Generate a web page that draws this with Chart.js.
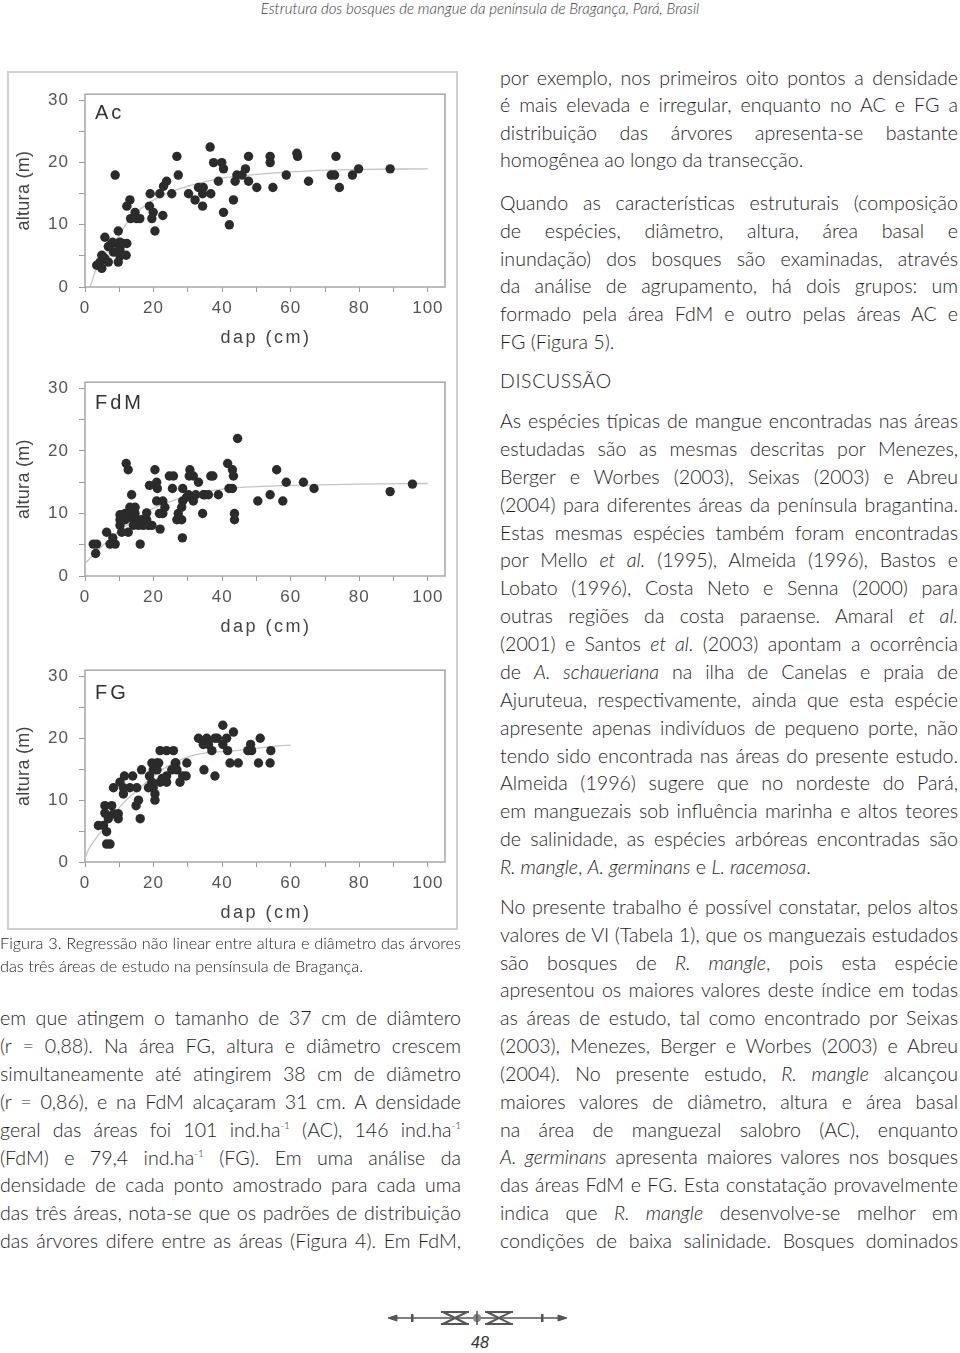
<!DOCTYPE html>
<html>
<head>
<meta charset="utf-8">
<script src="https://cdn.jsdelivr.net/npm/chart.js@4.4.1/dist/chart.umd.min.js"></script>
<style>
body{margin:0;width:960px;height:1353px;position:relative;background:#fff;overflow:hidden;
  font-family:Lato,"Open Sans",sans-serif;font-weight:300;color:#1e1e1e}
.hdr{position:absolute;top:0;left:0;width:960px;text-align:center;font-style:italic;font-size:15px;line-height:17px;color:#3a3a3a}
.col{position:absolute;font-size:19.6px}
.col div{white-space:nowrap;text-align:justify;text-align-last:justify}
.col div.end{text-align-last:left}
.col i{font-style:italic}
.col sup{font-size:10px;vertical-align:8px;line-height:0}
.frame{position:absolute;left:7px;top:71px;width:451px;height:859px;border:2px solid #d0d0d0;box-sizing:border-box}
.cw{position:absolute;left:9px;width:447px}
.head{position:absolute;left:500px;top:369px;font-size:19.5px;letter-spacing:0.6px;line-height:24px}
.pg{position:absolute;left:0;width:960px;top:1334px;text-align:center;font:italic 16px "Liberation Sans",Arial,sans-serif;color:#333}
</style>
</head>
<body>
<div class="hdr">Estrutura dos bosques de mangue da península de Bragança, Pará, Brasil</div>

<div class="frame"></div>
<div class="cw" style="top:74px;height:288px"><canvas id="chartAc"></canvas></div>
<div class="cw" style="top:362px;height:289px"><canvas id="chartFdM"></canvas></div>
<div class="cw" style="top:650px;height:287px"><canvas id="chartFG"></canvas></div>

<div class="col" style="left:0;top:931px;width:461px;font-size:16.3px;line-height:23px">
<div>Figura 3. Regressão não linear entre altura e diâmetro das árvores</div>
<div class="end">das três áreas de estudo na pensínsula de Bragança.</div>
</div>

<div class="col" style="left:0;top:1004px;width:461px;line-height:27.9px">
<div>em que atingem o tamanho de 37 cm de diâmtero</div>
<div>(r = 0,88). Na área FG, altura e diâmetro crescem</div>
<div>simultaneamente até atingirem 38 cm de diâmetro</div>
<div>(r = 0,86), e na FdM alcaçaram 31 cm. A densidade</div>
<div>geral das áreas foi 101 ind.ha<sup>-1</sup> (AC), 146 ind.ha<sup>-1</sup></div>
<div>(FdM) e 79,4 ind.ha<sup>-1</sup> (FG). Em uma análise da</div>
<div>densidade de cada ponto amostrado para cada uma</div>
<div>das três áreas, nota-se que os padrões de distribuição</div>
<div>das árvores difere entre as áreas (Figura 4). Em FdM,</div>
</div>

<div class="col" style="left:500px;top:64px;width:458px;line-height:27.4px">
<div>por exemplo, nos primeiros oito pontos a densidade</div>
<div>é mais elevada e irregular, enquanto no AC e FG a</div>
<div>distribuição das árvores apresenta-se bastante</div>
<div class="end">homogênea ao longo da transecção.</div>
</div>

<div class="col" style="left:500px;top:189px;width:458px;line-height:27.8px">
<div>Quando as características estruturais (composição</div>
<div>de espécies, diâmetro, altura, área basal e</div>
<div>inundação) dos bosques são examinadas, através</div>
<div>da análise de agrupamento, há dois grupos: um</div>
<div>formado pela área FdM e outro pelas áreas AC e</div>
<div class="end">FG (Figura 5).</div>
</div>

<div class="head">DISCUSSÃO</div>

<div class="col" style="left:500px;top:407px;width:458px;line-height:27.87px">
<div>As espécies típicas de mangue encontradas nas áreas</div>
<div>estudadas são as mesmas descritas por Menezes,</div>
<div>Berger e Worbes (2003), Seixas (2003) e Abreu</div>
<div>(2004) para diferentes áreas da península bragantina.</div>
<div>Estas mesmas espécies também foram encontradas</div>
<div>por Mello <i>et al.</i> (1995), Almeida (1996), Bastos e</div>
<div>Lobato (1996), Costa Neto e Senna (2000) para</div>
<div>outras regiões da costa paraense. Amaral <i>et al.</i></div>
<div>(2001) e Santos <i>et al.</i> (2003) apontam a ocorrência</div>
<div>de <i>A. schaueriana</i> na ilha de Canelas e praia de</div>
<div>Ajuruteua, respectivamente, ainda que esta espécie</div>
<div>apresente apenas indivíduos de pequeno porte, não</div>
<div>tendo sido encontrada nas áreas do presente estudo.</div>
<div>Almeida (1996) sugere que no nordeste do Pará,</div>
<div>em manguezais sob influência marinha e altos teores</div>
<div>de salinidade, as espécies arbóreas encontradas são</div>
<div class="end"><i>R. mangle</i>, <i>A. germinans</i> e <i>L. racemosa</i>.</div>
</div>

<div class="col" style="left:500px;top:893px;width:458px;line-height:27.83px">
<div>No presente trabalho é possível constatar, pelos altos</div>
<div>valores de VI (Tabela 1), que os manguezais estudados</div>
<div>são bosques de <i>R. mangle</i>, pois esta espécie</div>
<div>apresentou os maiores valores deste índice em todas</div>
<div>as áreas de estudo, tal como encontrado por Seixas</div>
<div>(2003), Menezes, Berger e Worbes (2003) e Abreu</div>
<div>(2004). No presente estudo, <i>R. mangle</i> alcançou</div>
<div>maiores valores de diâmetro, altura e área basal</div>
<div>na área de manguezal salobro (AC), enquanto</div>
<div><i>A. germinans</i> apresenta maiores valores nos bosques</div>
<div>das áreas FdM e FG. Esta constatação provavelmente</div>
<div>indica que <i>R. mangle</i> desenvolve-se melhor em</div>
<div>condições de baixa salinidade. Bosques dominados</div>
</div>

<svg style="position:absolute;left:385px;top:1308px" width="185" height="20">
  <g stroke="#555" fill="#555">
    <line x1="4" y1="10" x2="180" y2="10" stroke-width="1.5"/>
    <path d="M3 10 L12 7 L12 13 Z"/>
    <path d="M182 10 L173 7 L173 13 Z"/>
    <rect x="26" y="6" width="2.5" height="8" stroke="none"/>
    <rect x="156" y="6" width="2.5" height="8" stroke="none"/>
    <path d="M56 4 H84 M56 16 H84 M58 4 L82 16 M58 16 L82 4" fill="none" stroke-width="2"/>
    <path d="M100 4 H128 M100 16 H128 M102 4 L126 16 M102 16 L126 4" fill="none" stroke-width="2"/>
    <circle cx="92" cy="10" r="4" fill="#888" stroke="none"/>
    <line x1="92" y1="3" x2="92" y2="17" stroke-width="1.5"/>
  </g>
</svg>
<div class="pg">48</div>

<script>
// pontos (dap cm, altura m)
const acPoints = [
  [36.5,22.5],[26.8,21],[39.9,20],[37.5,20],[40.4,19],[47.7,21],[54,21],[54,20],[61.8,21.5],[62,21],
  [73.2,21],[8.8,18],[27.2,18],[38.9,17],[43.8,17],[44.3,18],[45.8,18],[46.8,19],[47.7,17],[50.1,16],
  [54.8,16],[58.7,18],[65.2,17],[71.8,18],[72.8,18],[74.2,16],[78,18],[79.8,19],[89,19],[22.9,16.2],
  [23.8,17],[19,15],[21.8,15],[25.3,15],[30.2,15],[32.1,14],[33.1,16],[34.5,16],[34.3,15],[34.3,13],
  [36.7,15],[40.4,12],[42.1,10],[43.3,14],[12.2,13],[13.1,14],[13.3,11],[14.6,12],[15.1,11],[16,11],
  [18.8,13],[19.5,11],[19.9,12],[20.4,9],[22.7,11.5],[9.7,9],[5.8,8],[6.8,6.5],[9.2,7],[8.3,5.6],
  [10.2,6],[12.2,7],[9.7,4],[12,5.1],[4.9,5.1],[5.8,4.6],[6.8,4],[4.4,4],[3.4,3.5],[4.9,3],
  [7.3,6.7],[10.2,7.2],[5.3,4.8],[11,7],[8,7.2],[10.2,5]
];
const fdmPoints = [
  [44.5,22],[12,18],[12.6,17],[20.4,17],[20.9,15],[18.8,14.5],[21.1,14],[24.6,16],[25.8,16],[25.5,14],
  [30.6,17],[30.4,16],[28.5,14],[33.1,15],[31.6,16],[36.7,16],[37.3,16],[30.2,13],[34.5,13],[36,13],
  [38.9,13],[31.6,12],[28.5,12],[20.9,12],[22.7,12],[22.7,10],[21.7,10],[23.3,11],[34.3,10],[28.2,11],
  [27.2,10],[26.8,9],[28.2,9],[28.4,6.1],[21.9,7.5],[41.6,18],[43,17],[43.3,16],[42,14],[43,14],
  [43.6,10],[43.6,9],[55.9,17],[58.7,15],[63.7,15],[66.8,14],[54,13],[50.4,12],[57.7,12],[89,13.5],
  [95.5,14.7],[13.6,13],[13.1,11],[14.6,11],[11.7,10],[13.1,10],[14.6,10],[10.2,9],[11.7,9],[10.2,8.1],
  [10.7,7],[12.6,7],[14.1,9],[15.1,9],[18,10.1],[15.6,8.1],[17,8.1],[18.5,8.1],[19.5,8.1],[16.5,9],
  [18,9],[14.1,8.1],[6.3,7],[8.1,6.1],[3.4,5.1],[7.3,5.1],[8.8,5.1],[2.4,5.1],[3.1,3.6],[16.1,5.1],
  [29.6,12.6],[32.3,13],[35,13],[10.2,9.8]
];
const fgPoints = [
  [40.2,22.1],[43.3,21],[33.1,20],[35.5,20],[37.9,20],[38.6,20],[40.2,19],[41.3,20],[34.5,19],[36,19],
  [37,18],[41.6,18],[42.3,16],[44.7,16],[48.3,19],[48.6,18],[51.1,20],[54.2,18],[50.6,16],[54,16],
  [34.7,14.9],[37.9,13.9],[21.9,18],[23.8,18],[25.8,18],[19.5,16],[20.9,16],[19.9,14.9],[21,14.9],[18.8,13.9],
  [19.5,12.9],[19.9,12],[20.4,11],[20.4,10],[21.9,12.9],[23.8,13.9],[23.8,12.9],[25.3,14.9],[26.3,16],[26.8,14.9],
  [28.5,13.9],[27.7,12.9],[29.7,16],[29.5,13.9],[16.5,14.9],[10.2,12.9],[8.3,12],[11.2,12],[13.1,12],[15.1,12],
  [11.2,11],[11.5,13.9],[13.9,13.9],[15.6,10],[14.9,9.1],[16.1,7],[5.8,9.1],[7.8,9.1],[5.8,7.9],[6.8,7],
  [8.3,7.8],[9.7,7.8],[9.7,7],[3.9,5.9],[5.4,5.9],[6.3,4.9],[6.3,2.9],[7.3,2.9],[18.5,12],[21.5,16],
  [22.5,13.5],[26.5,16],[47.5,18]
];

// curvas de regressão
const acCurveX = [1.5, 3, 5, 8.7, 13, 18, 24, 30, 40, 50, 60, 70, 80, 100];
const acCurveY = [0, 2.5, 4.6, 7.2, 10.9, 13.3, 15.1, 16.2, 17.5, 18.1, 18.5, 18.8, 18.9, 19];
const fdmCurveX = [0, 5, 10, 15, 20, 30, 40, 50, 60, 80, 100];
const fdmCurveY = [2, 4.8, 7.2, 9.2, 10.8, 12.8, 13.9, 14.3, 14.5, 14.7, 14.8];
const fgCurveX = [0, 1, 5, 10, 15, 23, 32, 44, 55, 60];
const fgCurveY = [0.6, 2, 5.1, 8.8, 11.5, 15.1, 17.3, 18.0, 18.7, 18.9];

const xTickLabels = [0, 20, 40, 60, 80, 100];
const yTickLabels = [0, 10, 20, 30];

const AXIS_FONT = '"Liberation Sans", Arial, sans-serif';

const plotFrame = {
    id: 'plotFrame',
    beforeDraw(chart) {
        chart.ctx.letterSpacing = '1px';
    },
    beforeDatasetsDraw(chart) {
        const {ctx, chartArea: a} = chart;
        ctx.save();
        ctx.strokeStyle = '#a6a6a6';
        ctx.lineWidth = 1.5;
        ctx.strokeRect(a.left, a.top, a.right - a.left, a.bottom - a.top);
        ctx.restore();
    },
    afterDraw(chart, args, opts) {
        const {ctx, chartArea: a} = chart;
        ctx.save();
        ctx.fillStyle = '#333';
        ctx.textBaseline = 'middle';
        ctx.letterSpacing = '3px';
        ctx.font = '20px ' + AXIS_FONT;
        ctx.fillText(opts.label, a.left + 10, a.top + opts.labelDy);

        ctx.fillStyle = '#444';
        ctx.font = '18px ' + AXIS_FONT;
        ctx.letterSpacing = '2.5px';
        ctx.textAlign = 'center';
        ctx.fillText('dap (cm)', (a.left + a.right) / 2 + 1, a.bottom + 51);

        ctx.letterSpacing = '0.3px';
        ctx.translate(15, (a.top + a.bottom) / 2);
        ctx.rotate(-Math.PI / 2);
        ctx.fillText('altura (m)', 0, 0);
        ctx.restore();
    }
};

function makeChart(id, points, curveX, curveY, label, padTop, labelDy)
{
    const ctx = document.getElementById(id);
    return new Chart(ctx, {
        type: 'scatter',
        data: {
            datasets: [{
                data: points.map(p => ({x: p[0], y: p[1]})),
                backgroundColor: '#2b2b2b',
                borderColor: '#2b2b2b',
                pointRadius: 4.7,
                pointHoverRadius: 4.7,
                borderWidth: 0,
                order: 1
            }, {
                data: curveX.map((x, i) => ({x: x, y: curveY[i]})),
                showLine: true,
                borderColor: '#c4c4c4',
                borderWidth: 1.3,
                pointRadius: 0,
                cubicInterpolationMode: 'monotone',
                order: 2
            }]
        },
        options: {
            responsive: true,
            maintainAspectRatio: false,
            animation: false,
            events: [],
            layout: {padding: {top: padTop, right: 11, left: 0, bottom: 0}},
            plugins: {
                legend: {display: false},
                tooltip: {enabled: false},
                plotFrame: {label: label, labelDy: labelDy}
            },
            scales: {
                x: {
                    type: 'linear',
                    min: 0,
                    max: 105,
                    afterFit: s => { s.height = 75; },
                    border: {display: false},
                    grid: {drawOnChartArea: false, drawTicks: true, tickLength: 5, tickColor: '#9a9a9a'},
                    ticks: {
                        stepSize: 10,
                        includeBounds: false,
                        autoSkip: false,
                        maxRotation: 0,
                        padding: 6,
                        color: '#555',
                        font: {family: AXIS_FONT, size: 17},
                        callback: v => xTickLabels.includes(v) ? String(v) : ''
                    }
                },
                y: {
                    type: 'linear',
                    min: 0,
                    max: 31,
                    afterFit: s => { s.width = 76; },
                    border: {display: false},
                    grid: {drawOnChartArea: false, drawTicks: true, tickLength: 6, tickColor: '#9a9a9a'},
                    ticks: {
                        stepSize: 5,
                        includeBounds: false,
                        autoSkip: false,
                        padding: 10,
                        color: '#555',
                        font: {family: AXIS_FONT, size: 17},
                        callback: v => yTickLabels.includes(v) ? String(v) : ''
                    }
                }
            }
        },
        plugins: [plotFrame]
    });
}

makeChart('chartAc', acPoints, acCurveX, acCurveY, 'Ac', 18, 19);
makeChart('chartFdM', fdmPoints, fdmCurveX, fdmCurveY, 'FdM', 17, 21);
makeChart('chartFG', fgPoints, fgCurveX, fgCurveY, 'FG', 16, 23);

// encaixa linhas longas na largura da coluna
function fitLines()
{
    document.querySelectorAll('.col div').forEach(d => {
        d.style.letterSpacing = '';
        const extra = d.scrollWidth - d.clientWidth;
        if (extra > 0) {
            const n = d.textContent.length;
            d.style.letterSpacing = (-extra / n - 0.02).toFixed(3) + 'px';
        }
    });
}
fitLines();
if (document.fonts) document.fonts.ready.then(fitLines);
</script>
</body>
</html>
